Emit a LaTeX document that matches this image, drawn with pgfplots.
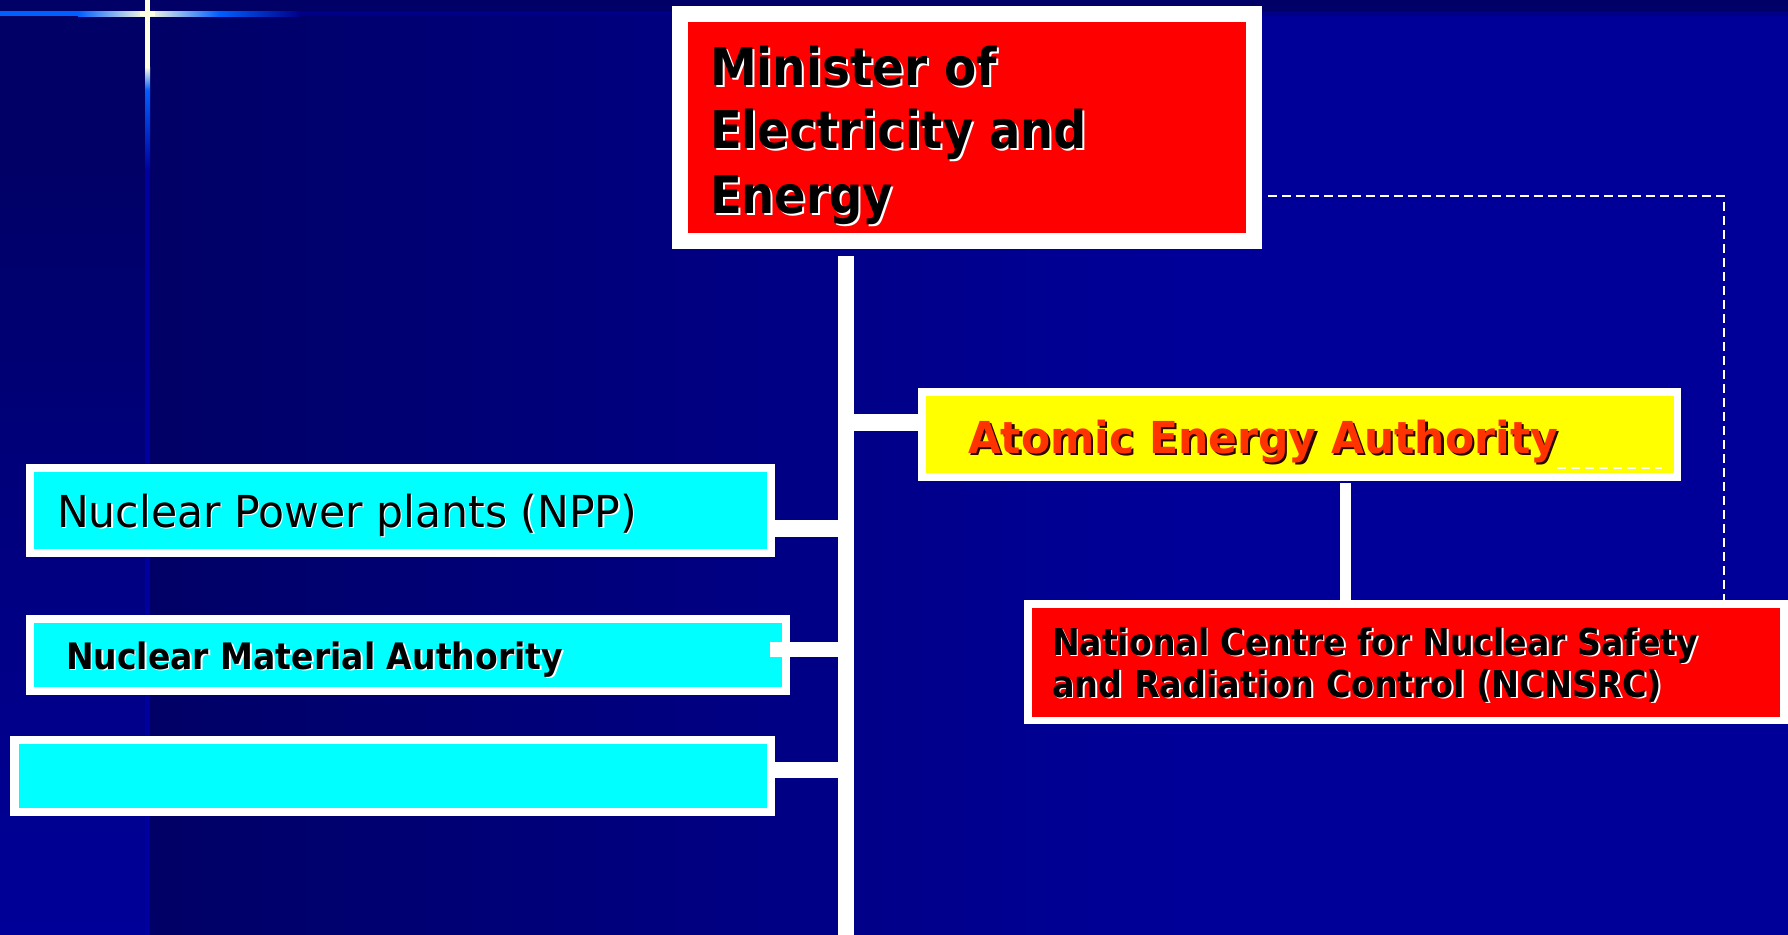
\documentclass[border=0pt]{standalone}
\usepackage{pgfplots}
\pgfplotsset{compat=1.18}
\usepackage{graphicx}
\usepackage{fontspec}
\setmainfont{DejaVu Sans}
\definecolor{bgdark}{RGB}{0,0,102}
\definecolor{bgright}{RGB}{0,0,153}
\definecolor{glow}{RGB}{0,95,255}
\definecolor{cream}{RGB}{255,255,225}
\definecolor{linedark}{RGB}{0,0,135}
\definecolor{vline}{RGB}{0,0,160}
\definecolor{boxred}{RGB}{255,0,0}
\definecolor{boxyellow}{RGB}{255,255,0}
\definecolor{boxcyan}{RGB}{0,255,255}
\definecolor{aeatext}{RGB}{255,51,0}
\definecolor{aeashadow}{RGB}{40,0,0}
% x, y (base west, px), width (pt), text colour, shadow colour, shadow shift (pt), font, text
\newcommand\stext[8]{%
  \node[anchor=base west, inner sep=0pt, outer sep=0pt, text=#5, font=#7, xshift=#6, yshift=-#6] at (axis cs:#1,#2) {\resizebox{#3}{\height}{#8}};%
  \node[anchor=base west, inner sep=0pt, outer sep=0pt, text=#4, font=#7] at (axis cs:#1,#2) {\resizebox{#3}{\height}{#8}};%
}
\newcommand\orgbox[9]{% white outer x1,y1,x2,y2 ; inner x1,y1,x2,y2 ; colour
  \fill[white] (axis cs:#1,#2) rectangle (axis cs:#3,#4);%
  \fill[#9] (axis cs:#5,#6) rectangle (axis cs:#7,#8);%
}
\begin{document}
\begin{tikzpicture}
\begin{axis}[
  scale only axis, width=894pt, height=467pt,
  xmin=0, xmax=1788, ymin=0, ymax=934, y dir=reverse,
  hide axis, clip=true]
% ---------- background ----------
\fill[bgdark] (axis cs:-10,-10) rectangle (axis cs:1800,945);
\shade[left color=bgdark, right color=bgright] (axis cs:150,16) rectangle (axis cs:1200,945);
\fill[bgright] (axis cs:1199,16) rectangle (axis cs:1800,945);
\fill[bgdark] (axis cs:-10,-10) rectangle (axis cs:150,150);
\shade[top color=bgdark, bottom color=bgright] (axis cs:-10,150) rectangle (axis cs:146,945);
\fill[bgdark] (axis cs:-10,-10) rectangle (axis cs:1800,11);
% horizontal glow line
\fill[glow] (axis cs:-10,11) rectangle (axis cs:78,16);
\shade[left color=glow, right color=cream] (axis cs:78,11) rectangle (axis cs:147,16);
\shade[left color=cream, right color=glow] (axis cs:147,11) rectangle (axis cs:219,16);
\shade[left color=glow, right color=linedark] (axis cs:219,11) rectangle (axis cs:300,16);
\fill[linedark] (axis cs:300,11) rectangle (axis cs:1800,16);
% vertical glow line
\fill[cream] (axis cs:145,-10) rectangle (axis cs:150,67);
\shade[top color=cream, bottom color=glow] (axis cs:145,67) rectangle (axis cs:150,90);
\shade[top color=glow, bottom color=vline] (axis cs:145,90) rectangle (axis cs:150,170);
\fill[vline] (axis cs:145,170) rectangle (axis cs:150,945);
\fill[cream] (axis cs:140,11) rectangle (axis cs:155,16);
% ---------- connectors ----------
\fill[white] (axis cs:838,256) rectangle (axis cs:854,945);
\fill[white] (axis cs:854,414) rectangle (axis cs:918,431);
\fill[white] (axis cs:1340,483) rectangle (axis cs:1351,601);
\fill[white] (axis cs:775,520) rectangle (axis cs:838,537);
\fill[white] (axis cs:770,642) rectangle (axis cs:838,657);
\fill[white] (axis cs:775,762) rectangle (axis cs:838,778);
% dashed links
\addplot[white, line width=1pt, dash pattern=on 4.5pt off 2.5pt, mark=none] coordinates {(1268,196) (1724,196) (1724,600)};
% ---------- boxes ----------
\orgbox{672}{6}{1262}{249}{688}{22}{1246}{233}{boxred}
\orgbox{918}{388}{1681}{481}{926}{396}{1674}{473}{boxyellow}
\orgbox{1024}{600}{1800}{724}{1032}{608}{1780}{717}{boxred}
\orgbox{26}{464}{775}{557}{34}{472}{767}{549}{boxcyan}
\orgbox{26}{615}{790}{695}{34}{623}{782}{687}{boxcyan}
\orgbox{10}{736}{775}{816}{19}{744}{767}{808}{boxcyan}
\fill[white] (axis cs:770,642) rectangle (axis cs:790,657);
\addplot[white, line width=1pt, dash pattern=on 4.5pt off 2.5pt, mark=none] coordinates {(1557,468) (1662,468)};
% ---------- texts ----------
\stext{710}{85}{143.5pt}{black}{white}{1pt}{\fontsize{26}{30}\selectfont\bfseries}{Minister of}
\stext{710}{148}{188.5pt}{black}{white}{1pt}{\fontsize{26}{30}\selectfont\bfseries}{Electricity and}
\stext{710}{213}{91.5pt}{black}{white}{1pt}{\fontsize{26}{30}\selectfont\bfseries}{Energy}
\stext{968}{453}{295pt}{aeatext}{aeashadow}{1.1pt}{\fontsize{22}{26}\selectfont\bfseries}{Atomic Energy Authority}
\stext{1052}{655}{323pt}{black}{white}{0.9pt}{\fontsize{18.5}{22}\selectfont\bfseries}{National Centre for Nuclear Safety}
\stext{1052}{697}{305pt}{black}{white}{0.9pt}{\fontsize{18.5}{22}\selectfont\bfseries}{and Radiation Control (NCNSRC)}
\stext{57}{527}{290pt}{black}{white}{0.7pt}{\fontsize{22}{26}\selectfont}{Nuclear Power plants (NPP)}
\stext{66}{669}{248.5pt}{black}{white}{0.8pt}{\fontsize{18.2}{22}\selectfont\bfseries}{Nuclear Material Authority}
\end{axis}
\end{tikzpicture}
\end{document}
